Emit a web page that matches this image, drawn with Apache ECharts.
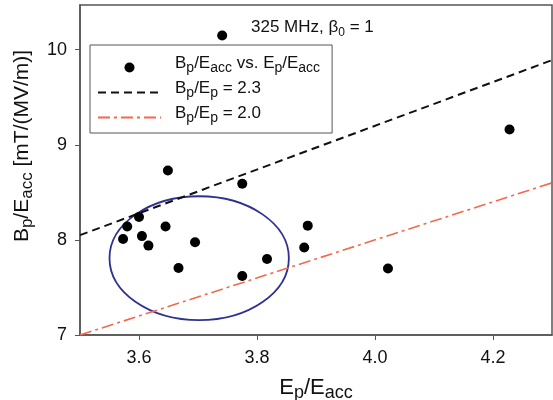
<!DOCTYPE html>
<html>
<head>
<meta charset="utf-8">
<script src="https://cdn.jsdelivr.net/npm/echarts@6/dist/echarts.min.js"></script>
<style>
  html, body { margin: 0; padding: 0; background: #fff; }
  #chart { width: 553px; height: 400px; }
</style>
</head>
<body>
<div id="chart"></div>
<script>
// values
var epEacc = [3.741, 4.228, 3.649, 3.775, 3.600, 3.580, 3.645, 3.886, 3.573, 3.605, 3.616, 3.695, 3.880, 3.817, 3.667, 3.775, 4.022];
var bpEacc = [10.15, 9.16, 8.73, 8.59, 8.24, 8.14, 8.14, 8.15, 8.01, 8.04, 7.94, 7.975, 7.92, 7.80, 7.705, 7.62, 7.70];
// ratio lines, two end points each
var lineX = [3.5, 4.3];
var line23 = [8.05, 9.89];
var line20 = [7.0, 8.6];
// ellipse: centre x, centre y, half width, half height (data units)
var ellipse = [3.702, 7.808, 0.152, 0.651];
var xTicks = [3.6, 3.8, 4.0, 4.2];
var yTicks = [7, 8, 9, 10];

var font = "'Liberation Sans', Arial, sans-serif";
var names = ["Bp/Eacc vs. Ep/Eacc", "Bp/Ep = 2.3", "Bp/Ep = 2.0"];
var legendRich = {
  "Bp/Eacc vs. Ep/Eacc": "{m|B}{s|p}{m|/E}{s|acc}{m| vs. E}{s|p}{m|/E}{s|acc}",
  "Bp/Ep = 2.3": "{m|B}{s|p}{m|/E}{s|p}{m| = 2.3}",
  "Bp/Ep = 2.0": "{m|B}{s|p}{m|/E}{s|p}{m| = 2.0}"
};

// main text + subscript styles
function richStyle(big, small) {
  return {
    m: { fontSize: big, fontFamily: font, fontWeight: "normal", color: "#111", lineHeight: big - 2, verticalAlign: "bottom", padding: [5, 0, 3, 0] },
    s: { fontSize: small, fontFamily: font, fontWeight: "normal", color: "#111", lineHeight: small, verticalAlign: "bottom", padding: 0 }
  };
}

function pairs(xs, ys) {
  var out = [];
  for (var i = 0; i < xs.length; i++) out.push([xs[i], ys[i]]);
  return out;
}

var chart = echarts.init(document.getElementById("chart"));

var option = {
  animation: false,
  backgroundColor: "#fff",
  title: {
    text: "{m|325 MHz, β}{s|0}{m| = 1}",
    left: 251,
    top: 24,
    padding: 0,
    textStyle: { fontWeight: "normal", rich: richStyle(17, 12) }
  },
  legend: {
    orient: "vertical",
    left: 90,
    top: 45,
    padding: [5, 12, 8, 7],
    itemGap: 0,
    itemWidth: 63,
    itemHeight: 10,
    backgroundColor: "#fff",
    borderColor: "#555",
    borderWidth: 1,
    borderRadius: 0,
    data: [
      { name: names[0] },
      { name: names[1], itemStyle: { opacity: 0 } },
      { name: names[2], itemStyle: { opacity: 0 } }
    ],
    formatter: function (name) {
      return legendRich[name];
    },
    textStyle: { padding: [0, 0, 0, 9], rich: richStyle(17, 14) }
  },
  grid: {
    left: 80,
    right: 1,
    top: 5,
    bottom: 65,
    outerBoundsMode: "none",
    containLabel: false,
    show: true,
    borderColor: "#555",
    borderWidth: 1.5,
    backgroundColor: "transparent"
  },
  xAxis: {
    type: "value",
    min: 3.5,
    max: 4.3,
    name: "{m|E}{s|p}{m|/E}{s|acc}",
    nameLocation: "middle",
    nameGap: 24,
    nameTextStyle: { rich: richStyle(22, 18) },
    axisLine: { show: true, lineStyle: { color: "#555", width: 1.5 } },
    axisTick: { show: true, length: 5, customValues: xTicks, lineStyle: { color: "#555" } },
    axisLabel: {
      customValues: xTicks,
      margin: 14,
      fontSize: 18,
      fontFamily: font,
      color: "#111",
      formatter: function (v) { return v.toFixed(1); }
    },
    splitLine: { show: false }
  },
  yAxis: {
    type: "value",
    min: 7,
    max: 10.47,
    name: "{m|B}{s|p}{m|/E}{s|acc}{m| [mT/(MV/m)]}",
    nameLocation: "middle",
    nameGap: 38,
    nameTextStyle: { rich: richStyle(21, 17), padding: [0, 0, 0, 48] },
    axisLine: { show: true, lineStyle: { color: "#555", width: 1.5 } },
    axisTick: { show: true, length: 5, customValues: yTicks, lineStyle: { color: "#555" } },
    axisLabel: {
      customValues: yTicks,
      margin: 13,
      fontSize: 18,
      fontFamily: font,
      color: "#111"
    },
    splitLine: { show: false }
  },
  series: [
    {
      name: names[0],
      type: "scatter",
      symbol: "circle",
      symbolSize: 10,
      itemStyle: { color: "#000", opacity: 1 },
      data: pairs(epEacc, bpEacc),
      z: 5
    },
    {
      name: names[1],
      type: "line",
      symbol: "none",
      itemStyle: { color: "#111" },
      lineStyle: { color: "#111", width: 2, type: [8, 5] },
      data: pairs(lineX, line23)
    },
    {
      name: names[2],
      type: "line",
      symbol: "none",
      itemStyle: { color: "#f4694c" },
      lineStyle: { color: "#f4694c", width: 1.6, type: [12, 4, 3, 4] },
      data: pairs(lineX, line20)
    },
    {
      name: "ellipse",
      type: "custom",
      data: [ellipse],
      encode: { x: 0, y: 1 },
      renderItem: function (params, api) {
        var c = api.coord([api.value(0), api.value(1)]);
        var s = api.size([api.value(2), api.value(3)]);
        return {
          type: "ellipse",
          shape: { cx: c[0], cy: c[1], rx: s[0], ry: s[1] },
          style: { fill: "none", stroke: "#2e3192", lineWidth: 1.8 }
        };
      }
    }
  ]
};

chart.setOption(option);
window.addEventListener("resize", function () {
  chart.resize();
});
</script>
</body>
</html>
